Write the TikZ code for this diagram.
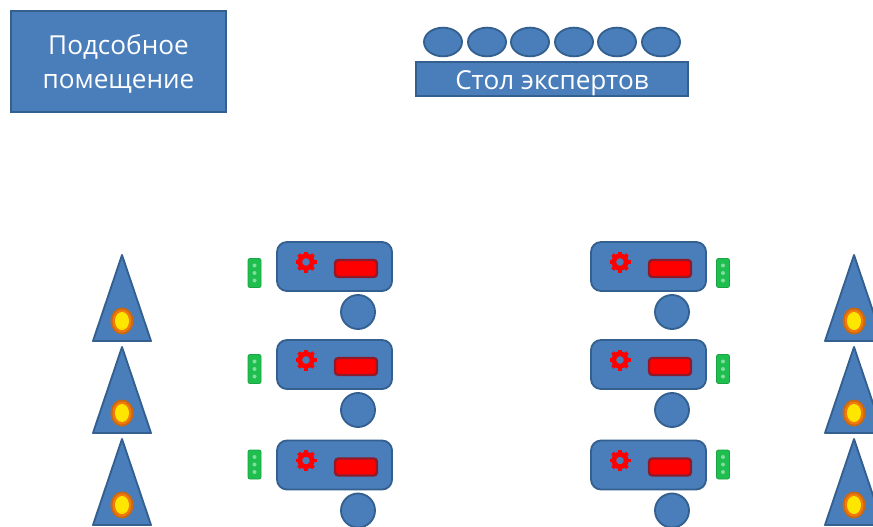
\documentclass[tikz,border=0pt]{standalone}
\usepackage{fontspec}
\usetikzlibrary{shapes.geometric}
\setmainfont{Open Sans}
\definecolor{bluefill}{HTML}{4A7EBB}
\definecolor{blueedge}{HTML}{34608F}
\definecolor{redfill}{HTML}{FF0000}
\definecolor{rededge}{HTML}{8E1A2A}
\definecolor{greenfill}{HTML}{1FBF4F}
\definecolor{flameout}{HTML}{F07A10}
\definecolor{flamein}{HTML}{FFE600}
\tikzset{
  x=0.75pt,y=-0.75pt,
  blueshape/.style={fill=bluefill,draw=blueedge,line width=1.4pt},
  labeltext/.style={text=white,align=center,inner sep=0pt,font=\fontsize{19.6}{25}\selectfont},
  redbar/.style={fill=redfill,draw=rededge,line width=1.8pt,rounded corners=2.5pt},
  greenbar/.style={fill=greenfill,draw=greenfill!85!black,line width=0.6pt,rounded corners=1.5pt},
  gearring/.style={draw=redfill,line width=3.6pt},
  gearhub/.style={draw=redfill,line width=2.8pt},
}
% table x, table y, seat name, green bar x, seat x, green bar y
\newcommand{\benchunit}[6]{%
  \draw[blueshape,rounded corners=7.5pt] (#1,#2) rectangle (#1+115,#2+49);
  \draw[redbar] (#1+58,#2+18) rectangle (#1+100,#2+35);
  \foreach \a in {0,45,...,315}
    \draw[gearhub] ({#1+29+6*cos(\a)},{#2+20+6*sin(\a)}) -- ({#1+29+10.5*cos(\a)},{#2+20+10.5*sin(\a)});
  \draw[gearring] (#1+29,#2+20) circle[radius=6.2];
  \node[blueshape,circle,minimum size=25.5pt,inner sep=0pt] (#3) at (#5,#2+70) {};
  \draw[greenbar] (#4,#6) rectangle (#4+13,#6+29);
  \foreach \d in {7,14.5,22}
    \fill[greenfill!55!white] (#4+6.5,#6+\d) circle[radius=2];
}
\newcommand{\lamp}[3]{%
  \draw[blueshape,line join=round] (#1,#2) -- (#1+29,#2+86) -- (#1-29,#2+86) -- cycle;
  \fill[flameout!85!black] (#1,#2+66) ellipse[x radius=11.5,y radius=13.5];
  \fill[flameout] (#1,#2+66) ellipse[x radius=9.5,y radius=11.5];
  \fill[flamein] (#1,#2+66) ellipse[x radius=7,y radius=9];
  \coordinate (#3) at (#1,#2);
}
\begin{document}
\begin{tikzpicture}
\useasboundingbox (0,0) rectangle (873,527);
\clip (0,0) rectangle (873,527);
\fill[white] (0,0) rectangle (873,527);
\node[blueshape,minimum width=161pt,minimum height=75.5pt,inner sep=0pt] (room) at (118.5,61.5) {};
\node[labeltext] (roomtext) at (118.5,64) {Подсобное\\помещение};
\node[blueshape,minimum width=204pt,minimum height=26pt,inner sep=0pt] (table) at (552,79) {};
\node[labeltext] (tabletext) at (552,83) {Стол экспертов};
\foreach \x [count=\i] in {443,487,530,574,617,661}
  \node[blueshape,ellipse,minimum width=28.5pt,minimum height=21.5pt,inner sep=0pt] (exp\i) at (\x,42) {};
\benchunit{277}{242}{sa}{248}{358}{258.5}
\benchunit{277}{340}{sb}{248}{358}{354.5}
\benchunit{277}{440.5}{sc}{248}{358}{450}
\benchunit{591}{242}{sd}{716.5}{672}{258.5}
\benchunit{591}{340}{se}{716.5}{672}{354.5}
\benchunit{591}{440.5}{sf}{716.5}{672}{450}
\lamp{122}{255}{la}
\lamp{122}{347}{lb}
\lamp{122}{439}{lc}
\lamp{854}{255}{ld}
\lamp{854}{347}{le}
\lamp{854}{439}{lf}
\end{tikzpicture}
\end{document}
